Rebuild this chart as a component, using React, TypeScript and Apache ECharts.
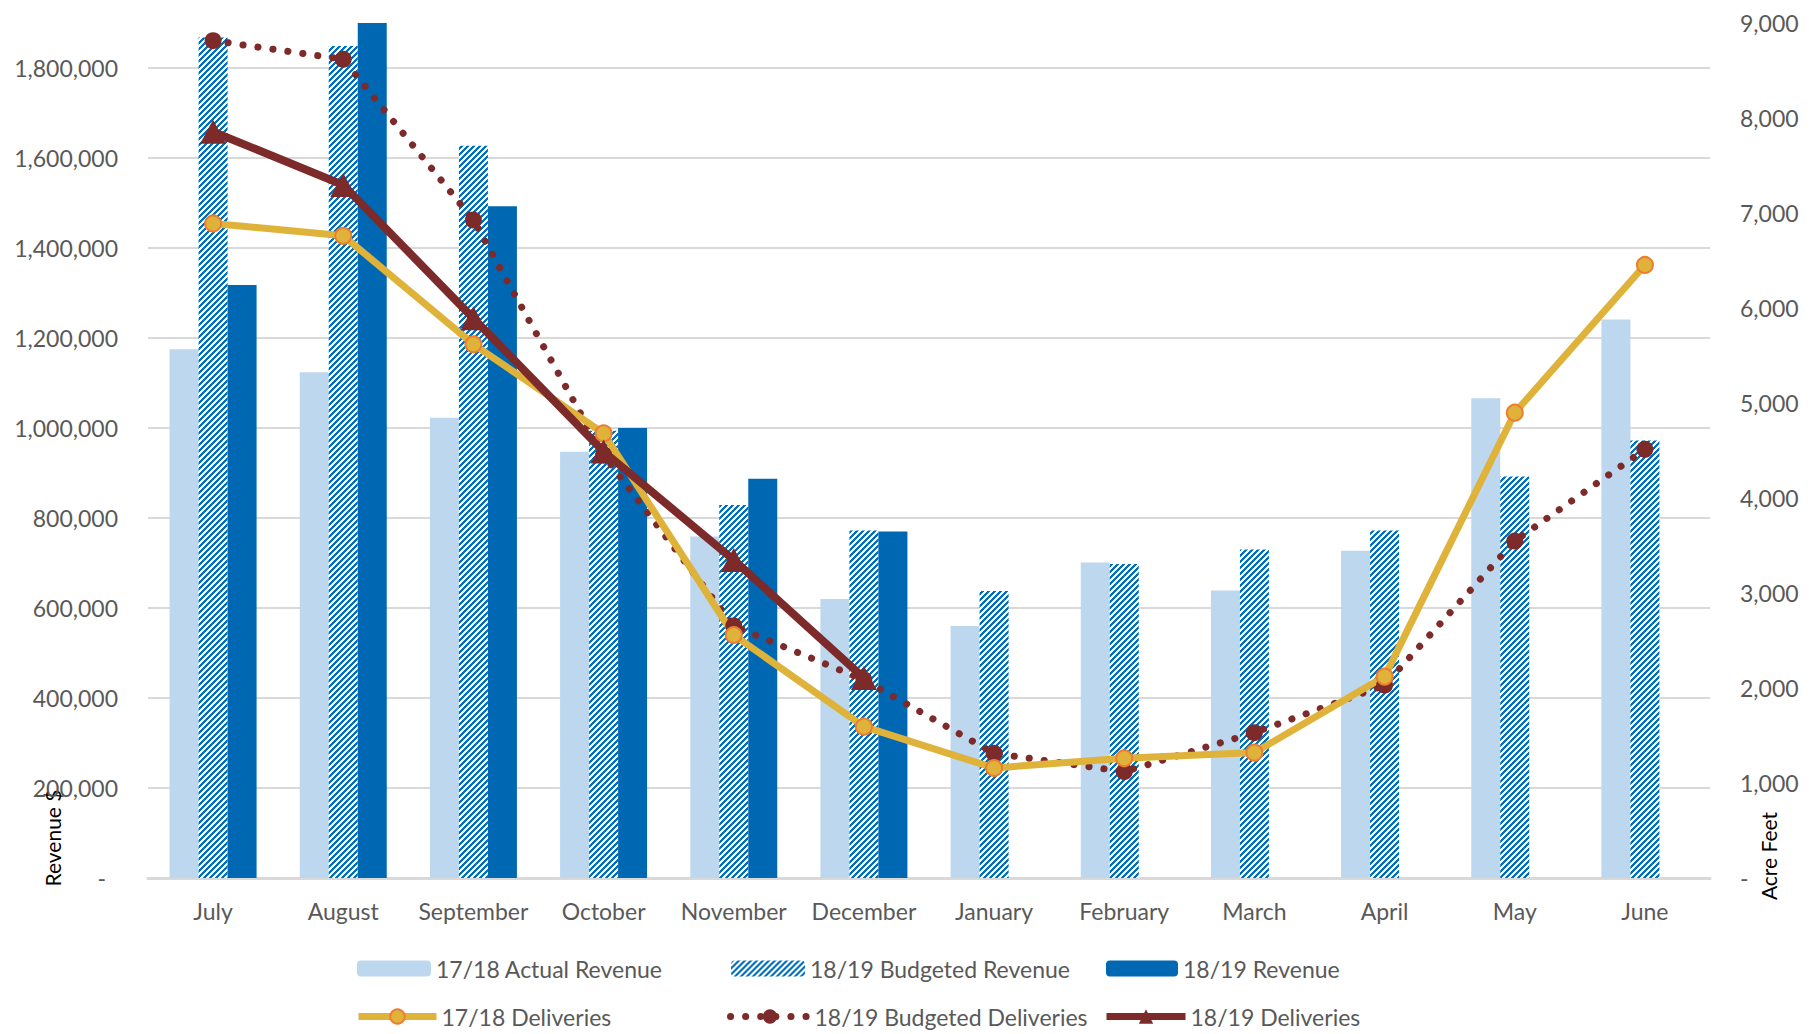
import React, { useEffect, useRef } from 'react';
import * as echarts from 'echarts';

const months = ['July', 'August', 'September', 'October', 'November', 'December', 'January', 'February', 'March', 'April', 'May', 'June'];

const actualRevenue1718 = [1175000, 1124000, 1023000, 947000, 759000, 620000, 560000, 701000, 639000, 727000, 1066000, 1241000];
const budgetedRevenue1819 = [1868000, 1849000, 1627000, 994000, 829000, 772000, 638000, 698000, 730000, 772000, 892000, 972000];
const revenue1819 = [1318000, 1900000, 1493000, 1000000, 887000, 770000, null, null, null, null, null, null];

const deliveries1718 = [6890, 6760, 5618, 4680, 2558, 1593, 1158, 1260, 1320, 2120, 4898, 6453];
const budgetedDeliveries1819 = [8814, 8618, 6926, 4453, 2653, 2085, 1312, 1119, 1530, 2030, 3547, 4512];
const deliveries1819 = [7856, 7295, 5891, 4490, 3347, 2105, null, null, null, null, null, null];

const revenueAxis = { min: 0, max: 1900000, interval: 200000 };
const acreFeetAxis = { min: 0, max: 9000, interval: 1000 };

const FONT = 'Lato, "Open Sans", sans-serif';
const GREY = '#595959';
const MAROON = '#7C2A2A';
const GOLD = '#DFB23A';

function makeHatch(): string {
  const s = 6;
  const c = document.createElement('canvas');
  c.width = s;
  c.height = s;
  const ctx = c.getContext('2d');
  if (!ctx) return '';
  ctx.fillStyle = '#ffffff';
  ctx.fillRect(0, 0, s, s);
  ctx.fillStyle = '#0070C0';
  for (let x = 0; x < s; x++) {
    for (let y = 0; y < s; y++) {
      if ((x + y) % 6 < 3) ctx.fillRect(x, y, 1, 1);
    }
  }
  return c.toDataURL();
}

function fmtNum(v: number): string {
  return Math.round(v).toLocaleString('en-US');
}

export default function App() {
  const ref = useRef<HTMLDivElement>(null);

  useEffect(() => {
    document.body.style.margin = '0';
    if (!ref.current) return;
    const chart = echarts.init(ref.current, undefined, { renderer: 'svg' });
    const hatch = {
      image: makeHatch(),
      repeat: 'repeat',
      imageWidth: 6,
      imageHeight: 6,
    };

    const legendBase = {
      orient: 'horizontal',
      padding: 0,
      itemGap: 0,
      textStyle: { fontFamily: FONT, fontSize: 23, color: GREY },
    };

    const gridColors = Array(10).fill('#d9d9d9').concat(['rgba(0,0,0,0)']);
    const dotted = [0.1, 15];

    const option: any = {
      animation: false,
      backgroundColor: '#ffffff',
      textStyle: { fontFamily: FONT },
      grid: { left: 148, right: 101, top: 23, bottom: 156, containLabel: false },
      legend: [
        { ...legendBase, left: 357, top: 957, itemWidth: 74, itemHeight: 16, data: ['17/18 Actual Revenue'] },
        { ...legendBase, left: 731, top: 957, itemWidth: 74, itemHeight: 16, data: ['18/19 Budgeted Revenue'] },
        { ...legendBase, left: 1106, top: 957, itemWidth: 72, itemHeight: 16, data: ['18/19 Revenue'] },
        {
          ...legendBase, left: 355, top: 1005, itemWidth: 78, itemHeight: 18,
          lineStyle: { width: 7 },
          data: ['17/18 Deliveries'],
        },
        {
          ...legendBase, left: 727, top: 1005, itemWidth: 79, itemHeight: 18,
          lineStyle: { width: 7, type: dotted, cap: 'round' },
          data: ['18/19 Budgeted Deliveries'],
        },
        {
          ...legendBase, left: 1103, top: 1005, itemWidth: 79, itemHeight: 18,
          lineStyle: { width: 7 },
          data: ['18/19 Deliveries'],
        },
      ],
      xAxis: {
        type: 'category',
        data: months,
        boundaryGap: true,
        axisTick: { show: false },
        axisLine: { show: true, lineStyle: { color: '#d9d9d9', width: 3 } },
        axisLabel: { fontFamily: FONT, fontSize: 23, color: GREY, margin: 21, interval: 0 },
        splitLine: { show: false },
      },
      yAxis: [
        {
          type: 'value',
          position: 'left',
          min: revenueAxis.min,
          max: revenueAxis.max,
          interval: revenueAxis.interval,
          axisLine: { show: false },
          axisTick: { show: false },
          axisLabel: {
            fontFamily: FONT,
            fontSize: 23,
            color: GREY,
            margin: 30,
            showMaxLabel: false,
            formatter: (v: number) => {
              if (v === 0) return '{d|-}';
              if (v % revenueAxis.interval !== 0) return '';
              return fmtNum(v);
            },
            rich: { d: { fontFamily: FONT, fontSize: 23, color: GREY, padding: [0, 12, 0, 0] } },
          },
          splitLine: { show: true, showMaxLine: false, lineStyle: { color: gridColors, width: 2 } },
        },
        {
          type: 'value',
          position: 'right',
          min: acreFeetAxis.min,
          max: acreFeetAxis.max,
          interval: acreFeetAxis.interval,
          axisLine: { show: false },
          axisTick: { show: false },
          axisLabel: {
            fontFamily: FONT,
            fontSize: 23,
            color: GREY,
            margin: 30,
            formatter: (v: number) => (v === 0 ? '-' : fmtNum(v)),
          },
          splitLine: { show: false },
        },
      ],
      graphic: [
        {
          type: 'text',
          x: 52,
          y: 838,
          rotation: Math.PI / 2,
          style: { text: 'Revenue $', fill: '#000000', fontFamily: FONT, fontSize: 21, align: 'center', verticalAlign: 'middle' },
        },
        {
          type: 'text',
          x: 1768,
          y: 856,
          rotation: Math.PI / 2,
          style: { text: 'Acre Feet', fill: '#000000', fontFamily: FONT, fontSize: 21, align: 'center', verticalAlign: 'middle' },
        },
      ],
      series: [
        {
          name: '17/18 Actual Revenue',
          type: 'bar',
          yAxisIndex: 0,
          barWidth: 29,
          barGap: '0%',
          itemStyle: { color: '#BDD7EE' },
          data: actualRevenue1718,
        },
        {
          name: '18/19 Budgeted Revenue',
          type: 'bar',
          yAxisIndex: 0,
          barWidth: 29,
          barGap: '0%',
          itemStyle: { color: hatch },
          data: budgetedRevenue1819,
        },
        {
          name: '18/19 Revenue',
          type: 'bar',
          yAxisIndex: 0,
          barWidth: 29,
          barGap: '0%',
          itemStyle: { color: '#0068B3' },
          data: revenue1819,
        },
        {
          name: '18/19 Budgeted Deliveries',
          type: 'line',
          yAxisIndex: 1,
          symbol: 'circle',
          symbolSize: 17,
          showAllSymbol: true,
          itemStyle: { color: MAROON },
          lineStyle: { color: MAROON, width: 7, type: dotted, cap: 'round' },
          data: budgetedDeliveries1819,
        },
        {
          name: '17/18 Deliveries',
          type: 'line',
          yAxisIndex: 1,
          symbol: 'circle',
          symbolSize: 16,
          showAllSymbol: true,
          itemStyle: { color: GOLD, borderColor: '#ED7D31', borderWidth: 2 },
          lineStyle: { color: GOLD, width: 7 },
          data: deliveries1718,
        },
        {
          name: '18/19 Deliveries',
          type: 'line',
          yAxisIndex: 1,
          symbol: 'triangle',
          symbolSize: [26, 24],
          showAllSymbol: true,
          itemStyle: { color: MAROON },
          lineStyle: { color: MAROON, width: 8 },
          data: deliveries1819,
        },
      ],
    };

    chart.setOption(option);
    return () => {
      chart.dispose();
    };
  }, []);

  return <div ref={ref} style={{ width: 1811, height: 1034 }} />;
}
